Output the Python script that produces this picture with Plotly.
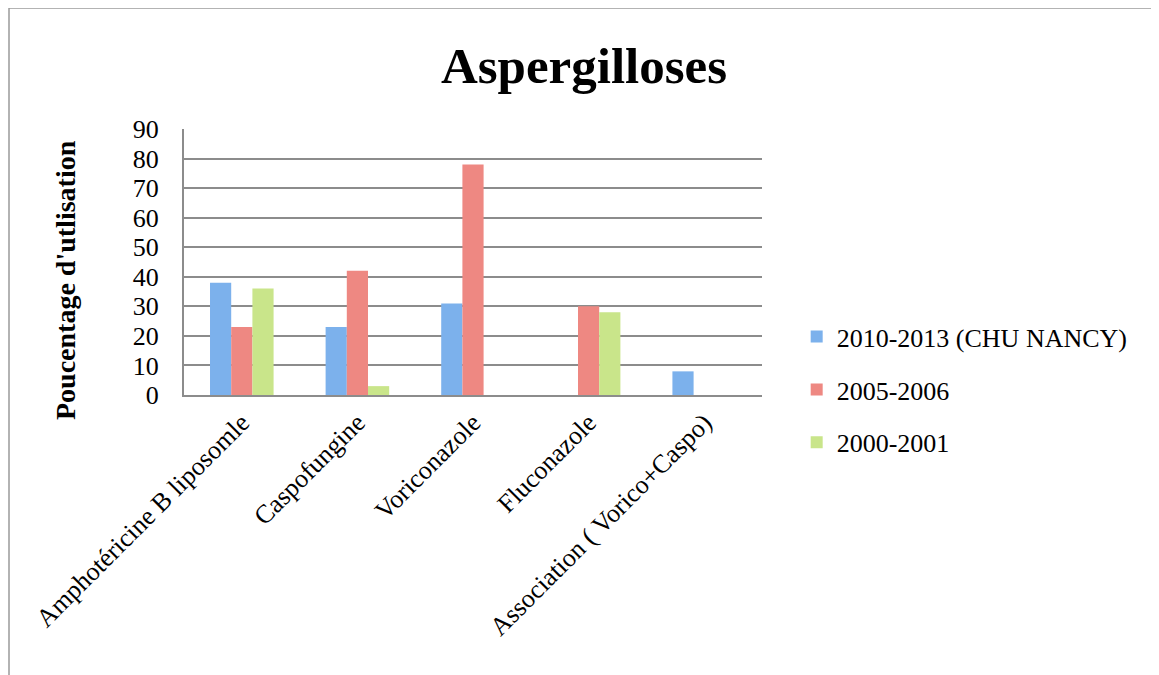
import plotly.graph_objects as go

categories = ["Amphotéricine B liposomle", "Caspofungine", "Voriconazole",
              "Fluconazole", "Association ( Vorico+Caspo)"]
series_names = ["2010-2013 (CHU NANCY)", "2005-2006", "2000-2001"]
s2010 = [38, 23, 31, 0, 8]
s2005 = [23, 42, 78, 30, 0]
s2000 = [36, 3, 0, 28, 0]
colors = ["#7cb1ec", "#ee8882", "#c9e58a"]
y_ticks = [0, 10, 20, 30, 40, 50, 60, 70, 80, 90]

FONT = "Liberation Serif"

# page is offset by 8px body margin
PX0, PX1, PY0, PY1 = 184, 762, 129, 395  # plot area in page pixels

fig = go.Figure()
for i, (name, vals) in enumerate(zip(series_names, [s2010, s2005, s2000])):
    fig.add_trace(go.Bar(x=categories, y=vals, name=name,
                         marker=dict(color=colors[i], line=dict(width=0)),
                         legendgroup=str(i)))

W, H = 1151, 667
fig.update_layout(
    width=W, height=H,
    margin=dict(l=PX0 - 8, r=1159 - PX1, t=PY0 - 8, b=675 - PY1),
    paper_bgcolor="white", plot_bgcolor="white",
    barmode="group", bargap=0.45, bargroupgap=0,
    font=dict(family=FONT, color="black"),
    title=dict(text="<b>Aspergilloses</b>", x=576 / W, xanchor="center",
               y=1 - 57 / H, yanchor="middle", font=dict(size=51, family=FONT)),
    legend=dict(x=1.06, xanchor="left", y=0.02, yanchor="middle",
                font=dict(size=26, family=FONT), tracegroupgap=16,
                traceorder="grouped", itemwidth=30),
    showlegend=True,
)
fig.update_xaxes(showgrid=False, showline=True, linecolor="#8c8c8c", linewidth=2,
                 tickangle=-45, tickfont=dict(size=26, family=FONT), ticks="")
fig.update_yaxes(range=[0, 90], tickvals=y_ticks, showgrid=True, gridcolor="#8c8c8c",
                 gridwidth=1.5, showline=True, linecolor="#8c8c8c", linewidth=2,
                 tickfont=dict(size=26, family=FONT), ticks="", ticklabelstandoff=18,
                 zeroline=False)
fig.add_annotation(text="<b>Poucentage d'utlisation</b>", xref="paper", yref="paper",
                   x=(65 - PX0) / (PX1 - PX0), y=(PY1 - 280) / (PY1 - PY0),
                   xanchor="center", yanchor="middle", textangle=-90,
                   showarrow=False, font=dict(size=28, family=FONT))
fig.add_shape(type="rect", xref="paper", yref="paper",
              x0=(9 - PX0) / (PX1 - PX0), x1=(1250 - PX0) / (PX1 - PX0),
              y0=(PY1 - 750) / (PY1 - PY0), y1=(PY1 - 8) / (PY1 - PY0),
              line=dict(color="#9a9a9a", width=1.5), layer="below")

fig.write_html("out.html")
